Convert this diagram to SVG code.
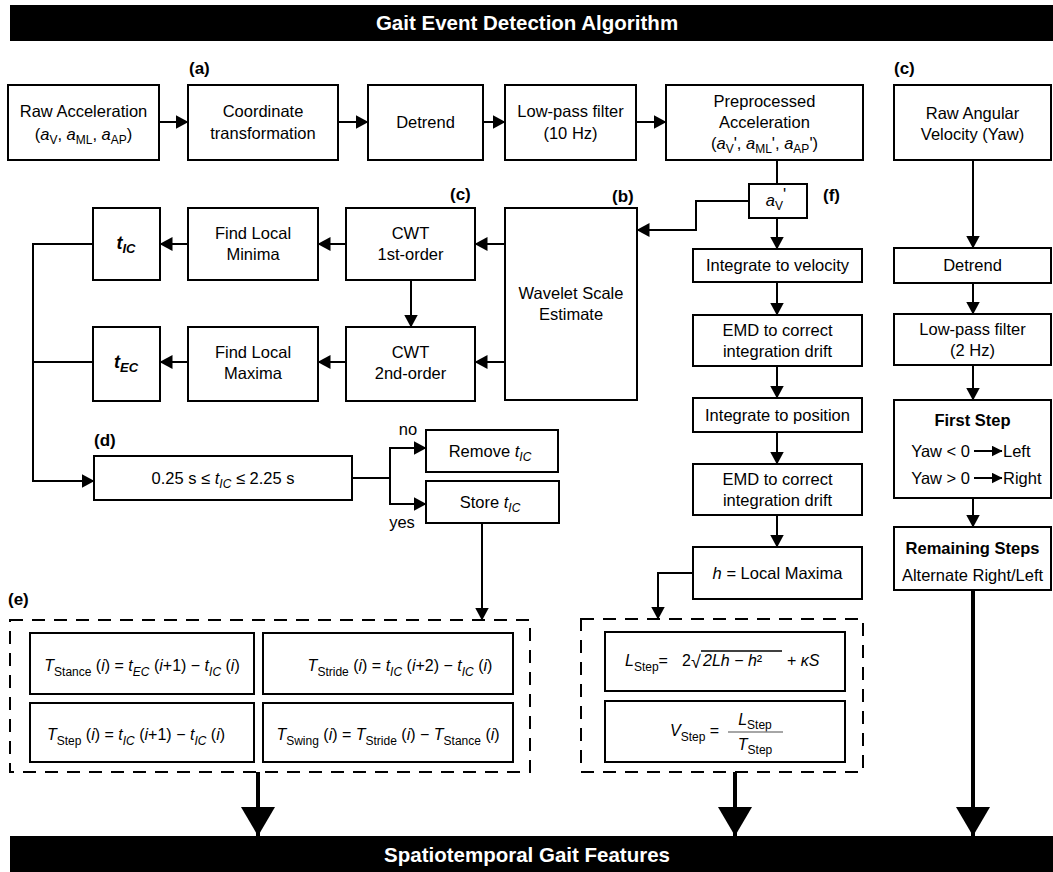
<svg xmlns="http://www.w3.org/2000/svg" width="1053" height="872" viewBox="0 0 1053 872">
<defs>
<style>
text{font-family:"Liberation Sans",Arial,sans-serif;fill:#000}
.t{font-size:16.5px;text-anchor:middle}
.f{font-size:16px;text-anchor:middle}
.lbl{font-size:17px;font-weight:bold}
.hd{font-size:20.5px;font-weight:bold;fill:#fff;text-anchor:middle}
.b{font-weight:bold}
.i{font-style:italic}
.s{font-size:12px}
.box{fill:#fff;stroke:#000;stroke-width:2}
.ln{fill:none;stroke:#000;stroke-width:2}
.arr{fill:none;stroke:#000;stroke-width:2;marker-end:url(#ah)}
.big{fill:none;stroke:#000;stroke-width:4;marker-end:url(#bh)}
.dash{fill:none;stroke:#000;stroke-width:2;stroke-dasharray:13 9}
</style>
<marker id="ah" markerUnits="userSpaceOnUse" markerWidth="13" markerHeight="14" refX="12.5" refY="7" orient="auto"><path d="M0,0 L13,7 L0,14 z" fill="#000"/></marker>
<marker id="sh" markerUnits="userSpaceOnUse" markerWidth="11" markerHeight="11" refX="10.5" refY="5.5" orient="auto"><path d="M0,0 L11,5.5 L0,11 z" fill="#000"/></marker>
<marker id="bh" markerUnits="userSpaceOnUse" markerWidth="34" markerHeight="34" refX="29" refY="17" orient="auto"><path d="M0,0 L29,17 L0,34 z" fill="#000"/></marker>
</defs>
<rect width="1053" height="872" fill="#fff"/>

<g id="title">
<rect x="10" y="5" width="1043" height="36" fill="#000"/>
<text class="hd" x="527" y="30">Gait Event Detection Algorithm</text>
</g>
<g id="footer">
<rect x="10" y="836" width="1043" height="36" fill="#000"/>
<text class="hd" x="527" y="862">Spatiotemporal Gait Features</text>
</g>

<g id="labels">
<text class="lbl" x="189" y="74">(a)</text>
<text class="lbl" x="894" y="74">(c)</text>
<text class="lbl" x="450" y="200">(c)</text>
<text class="lbl" x="612" y="202">(b)</text>
<text class="lbl" x="823" y="201">(f)</text>
<text class="lbl" x="94" y="446">(d)</text>
<text class="lbl" x="8" y="605">(e)</text>
<text class="t" x="408" y="435">no</text>
<text class="t" x="402" y="528">yes</text>
</g>

<g id="connectors">
<line class="arr" x1="159" y1="122" x2="188" y2="122"/>
<line class="arr" x1="338" y1="122" x2="368" y2="122"/>
<line class="arr" x1="483" y1="122" x2="505" y2="122"/>
<line class="arr" x1="636" y1="122" x2="666" y2="122"/>
<line class="ln" x1="777" y1="160" x2="777" y2="184"/>
<polyline class="arr" points="749,201 696,201 696,230 637,230"/>
<line class="arr" x1="777" y1="218" x2="777" y2="249"/>
<line class="arr" x1="777" y1="282" x2="777" y2="315"/>
<line class="arr" x1="777" y1="366" x2="777" y2="398"/>
<line class="arr" x1="777" y1="432" x2="777" y2="464"/>
<line class="arr" x1="777" y1="515" x2="777" y2="547"/>
<polyline class="arr" points="693,573 658,573 658,619"/>
<line class="arr" x1="505" y1="244" x2="475" y2="244"/>
<line class="arr" x1="505" y1="362" x2="475" y2="362"/>
<line class="arr" x1="411" y1="280" x2="411" y2="327"/>
<line class="arr" x1="346" y1="244" x2="318" y2="244"/>
<line class="arr" x1="346" y1="362" x2="318" y2="362"/>
<line class="arr" x1="188" y1="244" x2="160" y2="244"/>
<line class="arr" x1="188" y1="362" x2="160" y2="362"/>
<polyline class="arr" points="93,244 33,244 33,481 94,481"/>
<line class="ln" x1="93" y1="362" x2="33" y2="362"/>
<polyline class="ln" points="352,478 390,478"/>
<polyline class="arr" points="390,478 390,448 426,448"/>
<polyline class="arr" points="390,478 390,504 426,504"/>
<line class="arr" x1="482" y1="523" x2="482" y2="620"/>
<line class="arr" x1="973" y1="160" x2="973" y2="248"/>
<line class="arr" x1="973" y1="283" x2="973" y2="314"/>
<line class="arr" x1="973" y1="365" x2="973" y2="400"/>
<line class="arr" x1="973" y1="498" x2="973" y2="527"/>
<line class="big" x1="973" y1="590" x2="973" y2="836"/>
<line class="big" x1="258" y1="772" x2="258" y2="836"/>
<line class="big" x1="735" y1="772" x2="735" y2="836"/>
</g>

<g id="raw-acc">
<rect class="box" x="8" y="85" width="151" height="75"/>
<text class="t" x="83.5" y="117">Raw Acceleration</text>
<text class="t" x="83.5" y="140">(<tspan class="i">a</tspan><tspan class="s" dy="4">V</tspan><tspan dy="-4">, </tspan><tspan class="i">a</tspan><tspan class="s" dy="4">ML</tspan><tspan dy="-4">, </tspan><tspan class="i">a</tspan><tspan class="s" dy="4">AP</tspan><tspan dy="-4">)</tspan></text>
</g>
<g id="coord">
<rect class="box" x="188" y="85" width="150" height="75"/>
<text class="t" x="263" y="117">Coordinate</text>
<text class="t" x="263" y="139">transformation</text>
</g>
<g id="detrend1">
<rect class="box" x="368" y="85" width="115" height="75"/>
<text class="t" x="425.5" y="128">Detrend</text>
</g>
<g id="lowpass1">
<rect class="box" x="505" y="85" width="131" height="75"/>
<text class="t" x="570.5" y="117">Low-pass filter</text>
<text class="t" x="570.5" y="139">(10 Hz)</text>
</g>
<g id="preproc">
<rect class="box" x="666" y="85" width="197" height="75"/>
<text class="t" x="764.5" y="107">Preprocessed</text>
<text class="t" x="764.5" y="128">Acceleration</text>
<text class="t" x="764.5" y="149">(<tspan class="i">a</tspan><tspan class="s" dy="4">V</tspan><tspan dy="-4">', </tspan><tspan class="i">a</tspan><tspan class="s" dy="4">ML</tspan><tspan dy="-4">', </tspan><tspan class="i">a</tspan><tspan class="s" dy="4">AP</tspan><tspan dy="-4">')</tspan></text>
</g>
<g id="raw-ang">
<rect class="box" x="894" y="85" width="157" height="75"/>
<text class="t" x="972.5" y="119">Raw Angular</text>
<text class="t" x="972.5" y="140">Velocity (Yaw)</text>
</g>

<g id="av">
<rect class="box" x="749" y="184" width="58" height="34"/>
<text class="t" x="776" y="206"><tspan class="i">a</tspan><tspan class="s" dy="4">V</tspan><tspan dy="-10">'</tspan></text>
</g>
<g id="wavelet">
<rect class="box" x="505" y="208" width="132" height="192"/>
<text class="t" x="571" y="299">Wavelet Scale</text>
<text class="t" x="571" y="320">Estimate</text>
</g>
<g id="cwt1">
<rect class="box" x="346" y="208" width="129" height="72"/>
<text class="t" x="410.5" y="239">CWT</text>
<text class="t" x="410.5" y="260">1st-order</text>
</g>
<g id="cwt2">
<rect class="box" x="346" y="327" width="129" height="74"/>
<text class="t" x="410.5" y="358">CWT</text>
<text class="t" x="410.5" y="379">2nd-order</text>
</g>
<g id="findmin">
<rect class="box" x="188" y="208" width="130" height="72"/>
<text class="t" x="253" y="239">Find Local</text>
<text class="t" x="253" y="260">Minima</text>
</g>
<g id="findmax">
<rect class="box" x="188" y="327" width="130" height="74"/>
<text class="t" x="253" y="358">Find Local</text>
<text class="t" x="253" y="379">Maxima</text>
</g>
<g id="tic">
<rect class="box" x="93" y="208" width="67" height="72"/>
<text class="t b i" x="126" y="249" style="font-size:18px">t<tspan class="s" style="font-size:13px" dy="4">IC</tspan></text>
</g>
<g id="tec">
<rect class="box" x="93" y="327" width="67" height="74"/>
<text class="t b i" x="126" y="368" style="font-size:18px">t<tspan style="font-size:13px" dy="4">EC</tspan></text>
</g>

<g id="cond">
<rect class="box" x="94" y="456" width="258" height="44"/>
<text class="t" x="223" y="484">0.25 s ≤ <tspan class="i">t</tspan><tspan class="s i" dy="4">IC</tspan><tspan dy="-4"> ≤ 2.25 s</tspan></text>
</g>
<g id="remove">
<rect class="box" x="426" y="430" width="132" height="42"/>
<text class="t" x="490" y="457">Remove <tspan class="i">t</tspan><tspan class="s i" dy="4">IC</tspan></text>
</g>
<g id="store">
<rect class="box" x="426" y="481" width="133" height="42"/>
<text class="t" x="490" y="508">Store <tspan class="i">t</tspan><tspan class="s i" dy="4">IC</tspan></text>
</g>

<g id="intvel">
<rect class="box" x="693" y="249" width="169" height="33"/>
<text class="t" x="777.5" y="271">Integrate to velocity</text>
</g>
<g id="emd1">
<rect class="box" x="693" y="315" width="169" height="51"/>
<text class="t" x="777.5" y="336">EMD to correct</text>
<text class="t" x="777.5" y="357">integration drift</text>
</g>
<g id="intpos">
<rect class="box" x="693" y="398" width="169" height="34"/>
<text class="t" x="777.5" y="421">Integrate to position</text>
</g>
<g id="emd2">
<rect class="box" x="693" y="464" width="169" height="51"/>
<text class="t" x="777.5" y="485">EMD to correct</text>
<text class="t" x="777.5" y="506">integration drift</text>
</g>
<g id="hmax">
<rect class="box" x="693" y="547" width="169" height="52"/>
<text class="t" x="777.5" y="579"><tspan class="i">h</tspan> = Local Maxima</text>
</g>

<g id="detrend2">
<rect class="box" x="894" y="248" width="157" height="35"/>
<text class="t" x="972.5" y="271">Detrend</text>
</g>
<g id="lowpass2">
<rect class="box" x="894" y="314" width="157" height="51"/>
<text class="t" x="972.5" y="335">Low-pass filter</text>
<text class="t" x="972.5" y="356">(2 Hz)</text>
</g>
<g id="firststep">
<rect class="box" x="894" y="400" width="157" height="98"/>
<text class="t b" x="972.5" y="426">First Step</text>
<text class="t" x="970" y="457" style="text-anchor:end">Yaw &lt; 0</text>
<line x1="974" y1="451" x2="1002" y2="451" stroke="#000" stroke-width="2" marker-end="url(#sh)"/>
<text class="t" x="1003" y="457" style="text-anchor:start">Left</text>
<text class="t" x="970" y="484" style="text-anchor:end">Yaw &gt; 0</text>
<line x1="974" y1="478" x2="1002" y2="478" stroke="#000" stroke-width="2" marker-end="url(#sh)"/>
<text class="t" x="1003" y="484" style="text-anchor:start">Right</text>
</g>
<g id="remaining">
<rect class="box" x="894" y="527" width="157" height="63"/>
<text class="t b" x="972.5" y="554">Remaining Steps</text>
<text class="t" x="972.5" y="581">Alternate Right/Left</text>
</g>

<g id="temporal">
<rect class="dash" x="10" y="620" width="520" height="152"/>
<rect class="box" x="30" y="633" width="224" height="61"/>
<text class="f" x="142" y="671"><tspan class="i">T</tspan><tspan class="s" dy="5">Stance</tspan><tspan dy="-5"> (</tspan><tspan class="i">i</tspan>) = <tspan class="i">t</tspan><tspan class="s i" dy="5">EC</tspan><tspan dy="-5"> (</tspan><tspan class="i">i</tspan>+1) − <tspan class="i">t</tspan><tspan class="s i" dy="5">IC</tspan><tspan dy="-5"> (</tspan><tspan class="i">i</tspan>)</text>
<rect class="box" x="263" y="633" width="250" height="61"/>
<text class="f" x="400" y="671"><tspan class="i">T</tspan><tspan class="s" dy="5">Stride</tspan><tspan dy="-5"> (</tspan><tspan class="i">i</tspan>) = <tspan class="i">t</tspan><tspan class="s i" dy="5">IC</tspan><tspan dy="-5"> (</tspan><tspan class="i">i</tspan>+2) − <tspan class="i">t</tspan><tspan class="s i" dy="5">IC</tspan><tspan dy="-5"> (</tspan><tspan class="i">i</tspan>)</text>
<rect class="box" x="30" y="703" width="224" height="59"/>
<text class="f" x="136" y="740"><tspan class="i">T</tspan><tspan class="s" dy="5">Step</tspan><tspan dy="-5"> (</tspan><tspan class="i">i</tspan>) = <tspan class="i">t</tspan><tspan class="s i" dy="5">IC</tspan><tspan dy="-5"> (</tspan><tspan class="i">i</tspan>+1) − <tspan class="i">t</tspan><tspan class="s i" dy="5">IC</tspan><tspan dy="-5"> (</tspan><tspan class="i">i</tspan>)</text>
<rect class="box" x="263" y="703" width="250" height="59"/>
<text class="f" x="388" y="740"><tspan class="i">T</tspan><tspan class="s" dy="5">Swing</tspan><tspan dy="-5"> (</tspan><tspan class="i">i</tspan>) = <tspan class="i">T</tspan><tspan class="s" dy="5">Stride</tspan><tspan dy="-5"> (</tspan><tspan class="i">i</tspan>) − <tspan class="i">T</tspan><tspan class="s" dy="5">Stance</tspan><tspan dy="-5"> (</tspan><tspan class="i">i</tspan>)</text>
</g>

<g id="spatial">
<rect class="dash" x="581" y="619" width="282" height="153"/>
<rect class="box" x="605" y="632" width="240" height="59"/>
<text x="625" y="666" style="font-size:16px"><tspan class="i">L</tspan><tspan class="s" dy="5">Step</tspan><tspan dy="-5">=</tspan></text>
<text x="682" y="666" style="font-size:16px">2</text>
<text x="691" y="668" style="font-size:18px">√</text>
<line x1="701" y1="651" x2="782" y2="651" stroke="#000" stroke-width="1.3"/>
<text x="703" y="666" style="font-size:16px"><tspan class="i">2Lh</tspan> − <tspan class="i">h</tspan>²</text>
<text x="787" y="666" style="font-size:16px">+ <tspan class="i">κS</tspan></text>
<rect class="box" x="605" y="701" width="240" height="61"/>
<text x="670" y="736" style="font-size:16px"><tspan class="i">V</tspan><tspan class="s" dy="5">Step</tspan><tspan dy="-5"> =</tspan></text>
<text x="755" y="725" class="f"><tspan class="i">L</tspan><tspan class="s" dy="4">Step</tspan></text>
<line x1="728" y1="732" x2="783" y2="732" stroke="#888" stroke-width="1.5"/>
<text x="755" y="750" class="f"><tspan class="i">T</tspan><tspan class="s" dy="4">Step</tspan></text>
</g>
</svg>
